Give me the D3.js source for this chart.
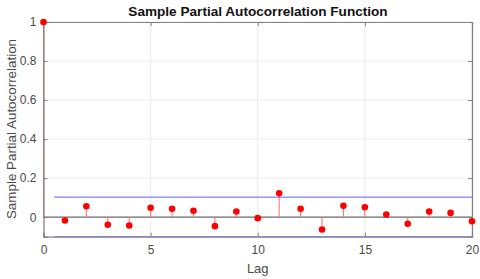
<!DOCTYPE html>
<html>
<head>
<meta charset="utf-8">
<script src="https://cdn.jsdelivr.net/npm/d3@7"></script>
<style>
  body { margin: 0; background: #fff; }
  text { font-family: "Liberation Sans", Arial, sans-serif; }
</style>
</head>
<body>
<div id="chart-area"></div>
<script>
const lags = d3.range(0, 21);
const pacf = [1, -0.017, 0.056, -0.039, -0.043, 0.048, 0.043, 0.033, -0.046, 0.029, -0.005,
  0.122, 0.043, -0.063, 0.058, 0.051, 0.014, -0.034, 0.029, 0.022, -0.021];
const bound = 0.1026;
const xTicks = [0, 5, 10, 15, 20];
const yTicks = [0, 0.2, 0.4, 0.6, 0.8, 1];

const canvasWidth = 480;
const canvasHeight = 279;
const margin = {left: 43.5, top: 22, right: 8, bottom: 42.3};
const chartWidth = canvasWidth - margin.left - margin.right;
const chartHeight = canvasHeight - margin.top - margin.bottom;

const canvas = d3.select("#chart-area").append("svg")
  .attr("width", canvasWidth).attr("height", canvasHeight);

const chartGroup = canvas.append("g").attr("transform", `translate(${margin.left}, ${margin.top})`);

const xScale = d3.scaleLinear().domain([0, 20]).range([0, chartWidth]);
const yScale = d3.scaleLinear().domain([-0.1, 1]).range([chartHeight, 0]);

const axisColor = "#808080";

// grid
chartGroup.selectAll(".xgrid").data(xTicks).enter().append("line")
  .attr("x1", d => xScale(d)).attr("x2", d => xScale(d))
  .attr("y1", 0).attr("y2", chartHeight)
  .attr("stroke", "#ebebeb");
chartGroup.selectAll(".ygrid").data(yTicks).enter().append("line")
  .attr("x1", 0).attr("x2", chartWidth)
  .attr("y1", d => yScale(d)).attr("y2", d => yScale(d))
  .attr("stroke", "#ebebeb");

// zero line
chartGroup.append("line")
  .attr("x1", 0).attr("x2", chartWidth)
  .attr("y1", yScale(0)).attr("y2", yScale(0))
  .attr("stroke", "#6e6e6e").attr("stroke-width", 1.2);

// stems
chartGroup.selectAll(".stem").data(lags).enter().append("line")
  .attr("x1", d => xScale(d)).attr("x2", d => xScale(d))
  .attr("y1", yScale(0)).attr("y2", d => yScale(pacf[d]))
  .attr("stroke", "#ff6b6b").attr("stroke-width", 1);

// axes box
const xAxis = d3.axisBottom(xScale).tickValues(xTicks).tickSize(-4).tickPadding(9).tickFormat(d3.format("d"));
const xg = chartGroup.append("g").attr("transform", `translate(0, ${chartHeight})`).call(xAxis);
const xTop = d3.axisTop(xScale).tickValues(xTicks).tickSize(-4).tickFormat("");
const xtg = chartGroup.append("g").call(xTop);
const yAxis = d3.axisLeft(yScale).tickValues(yTicks).tickSize(-4).tickPadding(7).tickFormat(d => d === 0 || d === 1 ? d : d3.format(".1f")(d));
const yg = chartGroup.append("g").call(yAxis);
const yRight = d3.axisRight(yScale).tickValues(yTicks).tickSize(-4).tickFormat("");
const yrg = chartGroup.append("g").attr("transform", `translate(${chartWidth}, 0)`).call(yRight);

[xg, xtg, yg, yrg].forEach(g => {
  g.select(".domain").attr("stroke", axisColor).attr("stroke-width", 1.2);
  g.selectAll(".tick line").attr("stroke", axisColor);
  g.selectAll(".tick text").attr("fill", "#4a4a4a").attr("font-size", "12px");
});

// confidence bounds (lower one sits on the bottom edge)
chartGroup.selectAll(".bound").data([bound, -bound]).enter().append("line")
  .attr("x1", xScale(0.5)).attr("x2", xScale(20))
  .attr("y1", d => yScale(Math.max(d, -0.1))).attr("y2", d => yScale(Math.max(d, -0.1)))
  .attr("stroke", (d, i) => i === 0 ? "#5f5fff" : "#8a8ac8").attr("stroke-width", (d, i) => i === 0 ? 1 : 1.3);

// markers
chartGroup.selectAll(".dot").data(lags).enter().append("circle")
  .attr("cx", d => xScale(d)).attr("cy", d => yScale(pacf[d]))
  .attr("r", 3.3).attr("fill", "#ff0000");

// labels
canvas.append("text")
  .attr("x", 258).attr("y", 16)
  .attr("text-anchor", "middle").attr("font-size", "13.6px").attr("font-weight", "bold")
  .attr("fill", "#111")
  .text("Sample Partial Autocorrelation Function");

canvas.append("text")
  .attr("x", margin.left + chartWidth / 2).attr("y", 273)
  .attr("text-anchor", "middle").attr("font-size", "13px").attr("fill", "#4a4a4a")
  .text("Lag");

canvas.append("text")
  .attr("transform", `translate(16, 129) rotate(-90)`)
  .attr("text-anchor", "middle").attr("font-size", "13.4px").attr("fill", "#4a4a4a")
  .text("Sample Partial Autocorrelation");
</script>
</body>
</html>
